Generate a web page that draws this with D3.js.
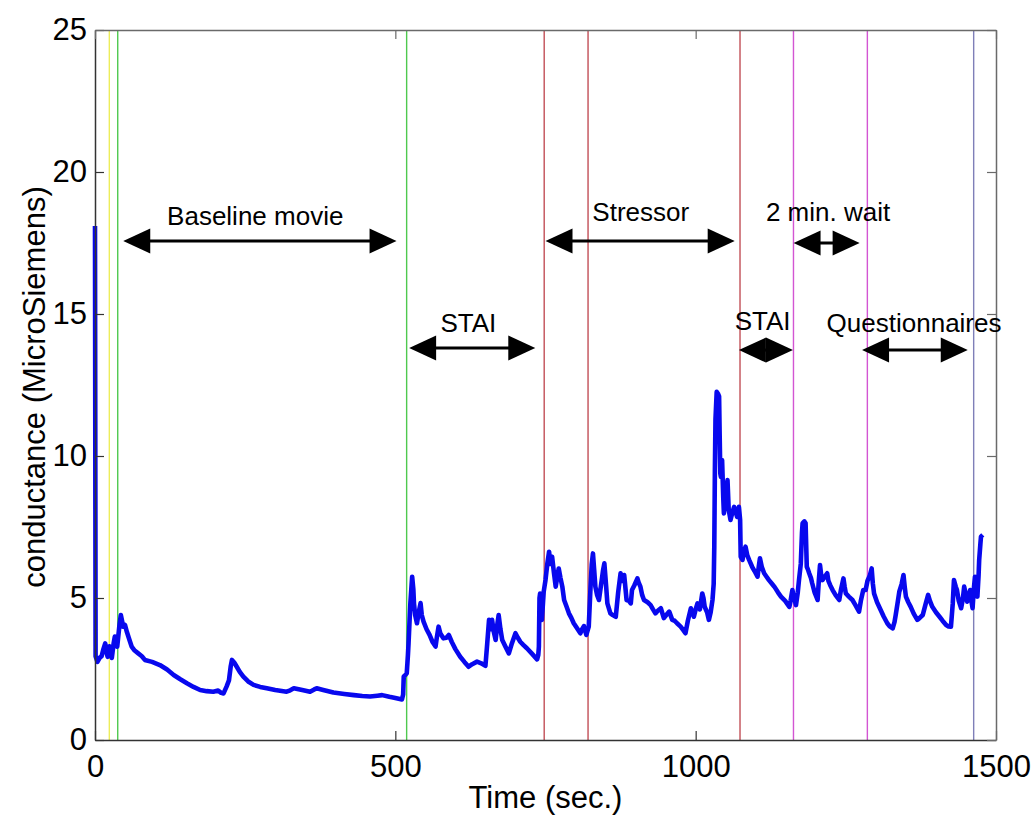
<!DOCTYPE html>
<html>
<head>
<meta charset="utf-8">
<script src="https://cdn.jsdelivr.net/npm/d3@7"></script>
<style>
  html, body { margin: 0; padding: 0; background: #fff; }
  svg { display: block; font-family: "Liberation Sans", Arial, sans-serif; }
</style>
</head>
<body>
<svg id="chart" width="1034" height="816"></svg>
<script>
// Skin conductance recording over one session (seconds, microsiemens)
const timeSec = [
  0, 1, 4, 8, 11, 14, 17, 19, 21, 24, 26, 28, 31, 33, 35, 37, 39, 41, 43, 45, 47, 50, 53, 57, 61, 66, 72, 78, 83, 95,
  108, 120, 131, 142, 153, 164, 175, 186, 197, 205, 210, 214, 219, 223, 226, 228, 232, 236, 241, 247, 255, 264, 275, 286,
  300, 319, 325, 331, 345, 358, 365, 369, 380, 397, 415, 431, 445, 458, 470, 478, 490, 500, 511, 513, 514, 517, 519, 521,
  522, 525, 528, 530, 531, 533, 536, 539, 542, 544, 547, 552, 557, 562, 567, 569, 572, 575, 580, 585, 589, 594, 600, 608,
  615, 622, 628, 636, 643, 650, 653, 656, 659, 661, 664, 667, 670, 672, 675, 678, 683, 689, 694, 700, 704, 708, 713, 719,
  727, 736, 738, 739, 740, 741, 744, 747, 750, 753, 756, 758, 761, 764, 767, 770, 772, 775, 778, 781, 785, 789, 793, 797,
  802, 808, 811, 814, 818, 822, 825, 827, 829, 831, 833, 836, 839, 844, 846, 848, 851, 853, 858, 862, 867, 871, 875, 878,
  881, 885, 889, 892, 894, 898, 903, 905, 908, 911, 914, 920, 925, 929, 933, 937, 942, 947, 951, 956, 961, 965, 969, 975,
  980, 983, 987, 992, 997, 1000, 1003, 1007, 1011, 1013, 1015, 1019, 1022, 1025, 1028, 1030, 1031, 1032, 1033, 1035, 1037,
  1039, 1040, 1041, 1042, 1044, 1046, 1047, 1050, 1053, 1055, 1058, 1061, 1064, 1067, 1069, 1072, 1074, 1075, 1078, 1080,
  1083, 1086, 1089, 1094, 1098, 1103, 1105, 1107, 1110, 1114, 1118, 1122, 1127, 1131, 1137, 1142, 1149, 1156, 1158, 1161,
  1164, 1167, 1170, 1172, 1175, 1177, 1178, 1181, 1183, 1185, 1187, 1189, 1192, 1194, 1198, 1203, 1205, 1207, 1209, 1211,
  1215, 1219, 1221, 1224, 1228, 1233, 1239, 1242, 1246, 1248, 1250, 1255, 1261, 1266, 1272, 1275, 1279, 1283, 1286, 1290,
  1293, 1295, 1297, 1302, 1308, 1313, 1319, 1323, 1328, 1331, 1333, 1336, 1339, 1343, 1346, 1348, 1350, 1354, 1358, 1363,
  1369, 1373, 1378, 1383, 1387, 1390, 1394, 1400, 1406, 1411, 1417, 1421, 1425, 1428, 1430, 1433, 1435, 1438, 1442, 1445,
  1447, 1450, 1452, 1455, 1457, 1459, 1461, 1463, 1465, 1467, 1469, 1471, 1472, 1474, 1475, 1478
];
const conductance = [
  18.1, 2.95, 2.75, 2.9, 2.95, 3.2, 3.4, 3.1, 2.93, 3.3, 3.15, 2.89, 3.4, 3.64, 3.4, 3.29, 3.7, 4.1, 4.4, 4.2, 3.99, 4.05, 3.81, 3.55, 3.29, 3.15, 3.05, 2.95, 2.82, 2.75,
  2.64, 2.48, 2.29, 2.14, 2.0, 1.87, 1.76, 1.72, 1.70, 1.74, 1.66, 1.64, 1.88, 2.1, 2.6, 2.82, 2.72, 2.58, 2.4, 2.23, 2.06, 1.94, 1.87, 1.82,
  1.76, 1.70, 1.75, 1.82, 1.76, 1.70, 1.78, 1.82, 1.76, 1.67, 1.62, 1.58, 1.55, 1.53, 1.56, 1.58, 1.52, 1.48, 1.43, 1.6, 2.23, 2.3, 2.35, 3.0,
  3.4, 4.8, 5.75, 5.3, 4.82, 4.4, 4.11, 4.5, 4.82, 4.4, 4.17, 3.9, 3.7, 3.45, 3.29, 3.6, 3.99, 3.75, 3.58, 3.6, 3.70, 3.45, 3.2, 2.93,
  2.75, 2.58, 2.67, 2.76, 2.7, 2.61, 3.4, 4.23, 3.9, 4.23, 3.8, 3.52, 4.1, 4.40, 3.9, 3.52, 3.3, 3.05, 3.4, 3.76, 3.6, 3.46, 3.35, 3.23,
  3.05, 2.84, 3.0, 3.29, 5.0, 5.16, 4.23, 5.22, 5.63, 6.2, 6.63, 6.2, 6.45, 5.9, 5.40, 5.8, 6.04, 5.7, 5.40, 4.93, 4.7, 4.46, 4.3, 4.11,
  3.95, 3.76, 3.9, 4.01, 3.70, 3.99, 5.40, 6.2, 6.57, 6.0, 5.40, 5.1, 4.93, 5.69, 6.0, 6.22, 5.4, 4.81, 4.46, 4.4, 4.34, 5.2, 5.87, 5.6,
  5.81, 4.93, 4.9, 4.81, 5.28, 5.45, 5.69, 5.55, 5.40, 5.1, 4.93, 4.85, 4.75, 4.6, 4.46, 4.55, 4.64, 4.29, 4.4, 4.52, 4.23, 4.2, 4.11, 3.99,
  3.85, 3.76, 4.2, 4.64, 4.34, 4.6, 4.81, 4.6, 5.16, 5.0, 4.69, 4.5, 4.23, 4.5, 4.93, 5.5, 6.81, 9.5, 11.3, 12.26, 12.2,
  12.1, 10.68, 9.39, 9.27, 9.86, 8.5, 7.98, 8.6, 9.15, 8.1, 7.75, 8.0, 8.21, 8.0, 7.86, 8.21, 7.75, 6.45, 6.34, 6.6,
  6.81, 6.5, 6.34, 6.1, 5.95, 5.75, 6.1, 6.40, 6.1, 5.87, 5.75, 5.63, 5.5, 5.40, 5.2, 5.05, 4.9, 4.69, 4.9, 5.28,
  5.0, 4.75, 5.2, 5.63, 6.2, 7.3, 7.63, 7.7, 7.63, 6.10, 6.0, 5.87, 5.7, 5.52, 5.2, 4.93, 5.6, 6.16, 5.8, 5.63,
  5.75, 5.87, 5.6, 5.45, 5.28, 5.1, 4.93, 5.3, 5.69, 5.4, 5.16, 5.05, 4.93, 4.75, 4.52, 4.9, 5.28, 5.28, 5.6, 5.8,
  6.04, 5.5, 5.16, 4.85, 4.58, 4.35, 4.11, 4.0, 3.93, 4.15, 4.40, 4.8, 5.22, 5.5, 5.81, 5.4, 5.05, 4.85, 4.69, 4.45,
  4.23, 4.3, 4.40, 4.8, 5.11, 4.9, 4.69, 4.5, 4.34, 4.2, 4.05, 4.0, 3.99, 4.8, 5.63, 5.4, 5.28, 4.9, 4.64, 5.0,
  5.40, 5.1, 4.87, 5.1, 5.28, 4.9, 4.64, 5.3, 5.75, 5.3, 5.05, 5.8, 6.34, 6.9, 7.16, 7.22
];

// Event markers (seconds) and their colours
const markerTimes  = [23, 37, 518, 747, 820, 1073, 1162, 1285, 1462];
const markerColors = ["#eded5a", "#4fc94f", "#4fc94f", "#c24f57", "#c24f57", "#c24f57", "#d355d3", "#d355d3", "#7f7fb8"];

// Phase annotations: label, arrow start/end (s), arrow level (µS), label start (s), label baseline (µS)
const phaseLabels    = ["Baseline movie", "STAI", "Stressor", "2 min. wait", "STAI", "Questionnaires"];
const phaseStart     = [47, 523, 750, 1163, 1072, 1277];
const phaseEnd       = [502, 733, 1065, 1273, 1162, 1453];
const phaseLevel     = [17.57, 13.8, 17.57, 17.5, 13.73, 13.73];
const phaseTextStart = [120, 575, 828, 1117, 1065, 1218];
const phaseTextLevel = [18.13, 14.37, 18.27, 18.27, 14.44, 14.37];

const xTicks = [0, 500, 1000, 1500];
const yTicks = [0, 5, 10, 15, 20, 25];

const svg = d3.select("#chart");
const plotL = 95, plotR = 996, plotT = 30, plotB = 740;

const x = d3.scaleLinear().domain([0, 1500]).range([plotL, plotR]);
const y = d3.scaleLinear().domain([0, 25]).range([plotB, plotT]);

// event marker lines
svg.append("g").selectAll("line")
  .data(markerTimes)
  .join("line")
  .attr("x1", d => x(d) + 0.5).attr("x2", d => x(d) + 0.5)
  .attr("y1", plotT).attr("y2", plotB)
  .attr("stroke", (d, i) => markerColors[i])
  .attr("stroke-width", 1.4);

// conductance trace
const pts = timeSec.map((t, i) => [t, conductance[i]]);
svg.append("path")
  .datum(pts)
  .attr("fill", "none")
  .attr("stroke", "#0808ee")
  .attr("stroke-width", 4.6)
  .attr("stroke-linejoin", "round")
  .attr("d", d3.line().x(d => x(d[0])).y(d => y(d[1])));

// axes box with inward ticks
const axisColor = "#333";
const gL = svg.append("g").attr("transform", `translate(${plotL},0)`)
  .call(d3.axisLeft(y).tickValues(yTicks).tickSize(-9).tickSizeOuter(0).tickPadding(8).tickFormat(d3.format("d")));
const gB = svg.append("g").attr("transform", `translate(0,${plotB})`)
  .call(d3.axisBottom(x).tickValues(xTicks).tickSize(-9).tickSizeOuter(0).tickPadding(15).tickFormat(d3.format("d")));
const gR = svg.append("g").attr("transform", `translate(${plotR},0)`)
  .call(d3.axisRight(y).tickValues(yTicks).tickSize(-9).tickSizeOuter(0).tickFormat(""));
const gT = svg.append("g").attr("transform", `translate(0,${plotT})`)
  .call(d3.axisTop(x).tickValues(xTicks).tickSize(-9).tickSizeOuter(0).tickFormat(""));

[gL, gB].forEach(g => {
  g.selectAll(".domain").attr("stroke", axisColor).attr("stroke-width", 1.5);
  g.selectAll(".tick line").attr("stroke", axisColor).attr("stroke-width", 1.2);
  g.selectAll(".tick text").attr("fill", "#000").style("font-size", "31px")
    .style("font-family", "'Liberation Sans', Arial, sans-serif");
});
[gR, gT].forEach(g => {
  g.selectAll(".domain").attr("stroke", "#6a6a6a").attr("stroke-width", 1.5);
  g.selectAll(".tick line").attr("stroke", "#6a6a6a").attr("stroke-width", 1.2);
});

// axis titles
svg.append("text")
  .attr("x", (plotL + plotR) / 2).attr("y", 808)
  .attr("text-anchor", "middle")
  .style("font-size", "31px")
  .text("Time (sec.)");

svg.append("text")
  .attr("transform", `translate(45,${(plotT + plotB) / 2 + 2}) rotate(-90)`)
  .attr("text-anchor", "middle")
  .style("font-size", "31px")
  .text("conductance (MicroSiemens)");

// double-headed arrows marking each phase
const headLen = 27, headHalf = 12.5;
const ann = svg.append("g");
phaseLabels.forEach((lab, i) => {
  const x0 = x(phaseStart[i]), x1 = x(phaseEnd[i]), yy = y(phaseLevel[i]);
  ann.append("line")
    .attr("x1", x0 + headLen - 2).attr("x2", x1 - headLen + 2)
    .attr("y1", yy).attr("y2", yy)
    .attr("stroke", "#000").attr("stroke-width", 3);
  ann.append("path")
    .attr("d", `M${x0},${yy} L${x0 + headLen},${yy - headHalf} L${x0 + headLen},${yy + headHalf} Z`)
    .attr("fill", "#000");
  ann.append("path")
    .attr("d", `M${x1},${yy} L${x1 - headLen},${yy - headHalf} L${x1 - headLen},${yy + headHalf} Z`)
    .attr("fill", "#000");
  ann.append("text")
    .attr("x", x(phaseTextStart[i])).attr("y", y(phaseTextLevel[i]))
    .style("font-size", "26px")
    .text(lab);
});
</script>
</body>
</html>
